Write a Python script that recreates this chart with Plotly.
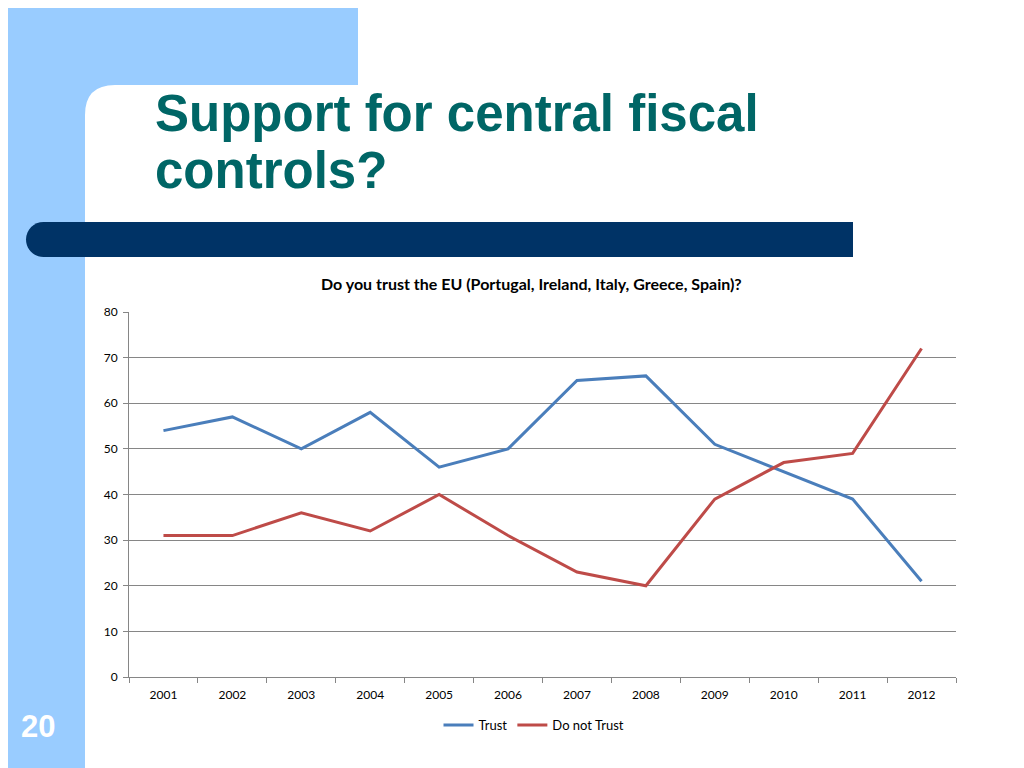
import plotly.graph_objects as go

years = ["2001", "2002", "2003", "2004", "2005", "2006", "2007", "2008", "2009", "2010", "2011", "2012"]
trust = [54, 57, 50, 58, 46, 50, 65, 66, 51, 45, 39, 21]
do_not_trust = [31, 31, 36, 32, 40, 31, 23, 20, 39, 47, 49, 72]

slide_title_1 = "Support for central fiscal"
slide_title_2 = "controls?"
chart_title = "Do you trust the EU (Portugal, Ireland, Italy, Greece, Spain)?"
slide_number = "20"

# the page places the figure 8px from the top-left corner of the window
OFF = 8
W, H = 1024 - OFF, 768 - OFF


def px(x):
    return (x - OFF) / W


def py(y):
    return 1 - (y - OFF) / H


fig = go.Figure()
fig.add_trace(go.Scatter(x=years, y=trust, mode="lines", name="Trust",
                         line=dict(color="#4A7EBB", width=3)))
fig.add_trace(go.Scatter(x=years, y=do_not_trust, mode="lines", name="Do not Trust",
                         line=dict(color="#BE4B48", width=3)))

# background: light blue region with rounded white corner
r = 30
lb = (f"M {px(OFF)},{py(OFF)} L {px(358)},{py(OFF)} L {px(358)},{py(85)} "
      f"L {px(85 + r)},{py(85)} Q {px(85)},{py(85)} {px(85)},{py(85 + r)} "
      f"L {px(85)},{py(768)} L {px(OFF)},{py(768)} Z")

# dark blue bar with rounded left end
br = 17.5
k = 0.5523 * br
x0, x1, y0, y1 = 26, 853, 222, 257
ym = (y0 + y1) / 2
bar = (f"M {px(x0 + br)},{py(y0)} L {px(x1)},{py(y0)} L {px(x1)},{py(y1)} L {px(x0 + br)},{py(y1)} "
       f"C {px(x0 + br - k)},{py(y1)} {px(x0)},{py(ym + k)} {px(x0)},{py(ym)} "
       f"C {px(x0)},{py(ym - k)} {px(x0 + br - k)},{py(y0)} {px(x0 + br)},{py(y0)} Z")

shapes = [
    dict(type="path", xref="paper", yref="paper", path=lb, fillcolor="#99CCFF",
         line=dict(width=0), layer="below"),
    dict(type="path", xref="paper", yref="paper", path=bar, fillcolor="#003366",
         line=dict(width=0), layer="below"),
]

title_font = dict(family="Liberation Sans, Arial", size=51, color="#006666")
annotations = [
    dict(text="<b>" + slide_title_1 + "</b>", x=px(153), y=py(113), xref="paper", yref="paper",
         xanchor="left", yanchor="middle", showarrow=False, font=title_font),
    dict(text="<b>" + slide_title_2 + "</b>", x=px(153), y=py(170), xref="paper", yref="paper",
         xanchor="left", yanchor="middle", showarrow=False, font=title_font),
    dict(text="<b>" + chart_title + "</b>", x=px(531.5), y=py(283.5), xref="paper", yref="paper",
         xanchor="center", yanchor="middle", showarrow=False,
         font=dict(family="Lato, Open Sans", size=16, color="#000000")),
    dict(text="<b>" + slide_number + "</b>", x=px(38), y=py(726.5), xref="paper", yref="paper",
         xanchor="center", yanchor="middle", showarrow=False,
         font=dict(family="Liberation Sans, Arial", size=31, color="#FFFFFF")),
]

fig.update_layout(
    width=W, height=H,
    margin=dict(l=0, r=0, t=0, b=0, autoexpand=False),
    paper_bgcolor="#FFFFFF",
    plot_bgcolor="rgba(0,0,0,0)",
    shapes=shapes,
    annotations=annotations,
    font=dict(family="Lato, Open Sans", size=12, color="#000000"),
    showlegend=True,
    legend=dict(orientation="h", x=px(534), xanchor="center", y=py(725), yanchor="middle",
                font=dict(size=13, family="Lato, Open Sans"), itemwidth=30,
                bgcolor="rgba(0,0,0,0)", tracegroupgap=0),
    xaxis=dict(domain=[px(129), px(956)], type="category", range=[-0.5, 11.5],
               showline=True, linecolor="#868686", linewidth=1,
               ticks="outside", tickson="boundaries", ticklen=5, tickcolor="#868686",
               ticklabelstandoff=7,
               showgrid=False, tickfont=dict(size=12), fixedrange=True),
    yaxis=dict(domain=[py(677), py(312)], range=[0, 80], dtick=10,
               showline=True, linecolor="#868686", linewidth=1,
               ticks="outside", ticklen=5, tickcolor="#868686",
               ticklabelstandoff=3,
               showgrid=True, gridcolor="#868686", gridwidth=1, zeroline=False,
               tickfont=dict(size=12)),
)

fig.write_html("out.html")
